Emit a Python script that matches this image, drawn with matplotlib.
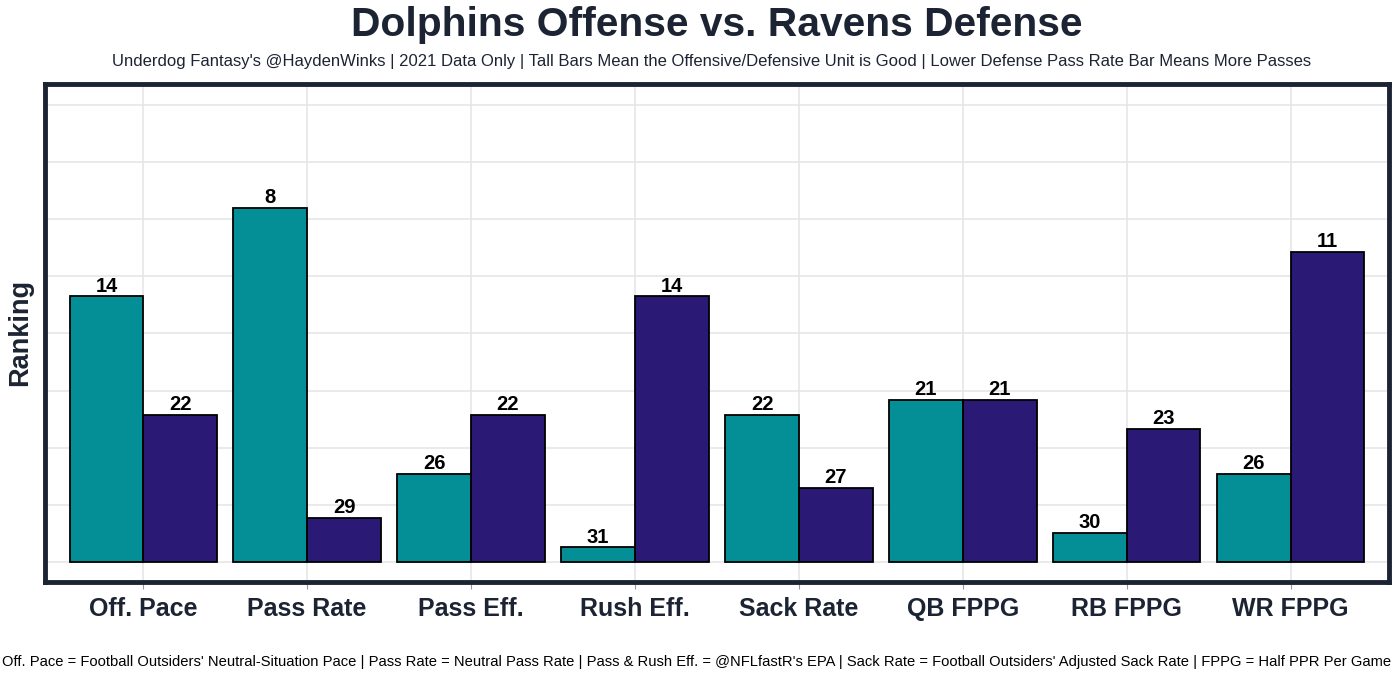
import numpy as np
import matplotlib
matplotlib.use("Agg")
import matplotlib.pyplot as plt

plt.rcParams['font.family'] = ['Liberation Sans', 'DejaVu Sans']

# data
categories = ['Off. Pace', 'Pass Rate', 'Pass Eff.', 'Rush Eff.', 'Sack Rate', 'QB FPPG', 'RB FPPG', 'WR FPPG']
offense_rank = [14, 8, 26, 31, 22, 21, 30, 26]
defense_rank = [22, 29, 22, 14, 27, 21, 23, 11]
n_teams = 32

teal = '#038F95'
navy = '#2A1A76'
dark = '#1C2433'

# bar height = rank turned into a 0-100 score (rank 1 -> ~100)
x = np.arange(1, len(categories) + 1)
off_h = [(n_teams - r) / (n_teams - 1) * 100 for r in offense_rank]
def_h = [(n_teams - r) / (n_teams - 1) * 100 for r in defense_rank]
w = 0.45

fig = plt.figure(figsize=(14, 6.79), dpi=100)
ax = fig.add_axes([0.0321, 0.143, 0.96, 0.7334])

ax.bar(x - w / 2, off_h, width=w, color=teal, edgecolor='black', linewidth=1.3, zorder=3)
ax.bar(x + w / 2, def_h, width=w, color=navy, edgecolor='black', linewidth=1.3, zorder=3)

for xi, h, r in zip(x - w / 2, off_h, offense_rank):
    ax.text(xi, h + 0.2, str(r), ha='center', va='bottom', fontsize=14.5, fontweight='bold', color='black', zorder=4)
for xi, h, r in zip(x + w / 2, def_h, defense_rank):
    ax.text(xi, h + 0.2, str(r), ha='center', va='bottom', fontsize=14.5, fontweight='bold', color='black', zorder=4)

ax.set_xlim(0.4, 8.6)
ax.set_ylim(-4.3, 104.5)
ax.set_yticks(np.arange(0, 101, 12.5))
ax.set_yticklabels([])
ax.tick_params(axis='y', length=0)
ax.set_xticks(x)
ax.set_xticklabels(categories, fontsize=18, fontweight='bold', color=dark)
ax.tick_params(axis='x', length=5, color='#999999', width=0.8, pad=6)
ax.grid(True, color='#E6E6E6', linewidth=1.2, zorder=0)

for s in ax.spines.values():
    s.set_linewidth(3.5)
    s.set_color(dark)

ax.set_ylabel('Ranking', fontsize=19.5, fontweight='bold', color=dark, labelpad=5)

# title and subtitle centred over the panel
fig.text(0.5121, 0.963, 'Dolphins Offense vs. Ravens Defense', ha='center', va='center',
         fontsize=29.3, fontweight='bold', color=dark)
fig.text(0.5086, 0.909, "Underdog Fantasy's @HaydenWinks | 2021 Data Only | Tall Bars Mean the Offensive/Defensive Unit is Good | Lower Defense Pass Rate Bar Means More Passes",
         ha='center', va='center', fontsize=11.95, color=dark)
fig.text(0.4979, 0.025, "Off. Pace = Football Outsiders' Neutral-Situation Pace | Pass Rate = Neutral Pass Rate | Pass & Rush Eff. = @NFLfastR's EPA | Sack Rate = Football Outsiders' Adjusted Sack Rate | FPPG = Half PPR Per Game",
         ha='center', va='center', fontsize=10.6, color='black')

fig.savefig('out.png', dpi=100)
